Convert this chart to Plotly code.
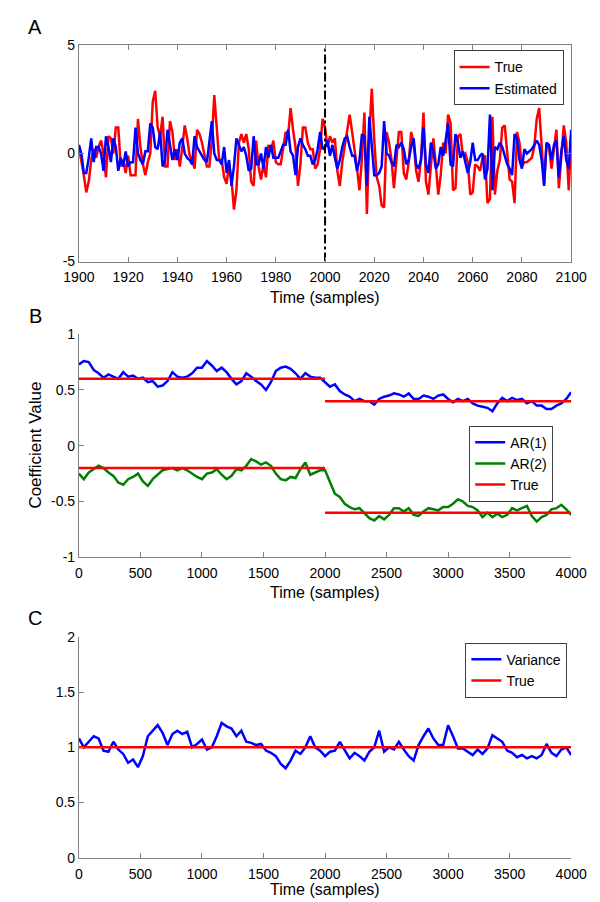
import plotly.graph_objects as go

# ---------------- Data ----------------
# Panel A: samples 1900..2100
a_time = list(range(1900, 2101))
a_true = [
    0.3, -0.3, -1.0, -1.8, -1.3, -0.3, 0.2, -0.2, 0.3, 0.6,
    0.0, -1.1, 0.8, 0.7, 0.0, 1.2, 1.2, -0.6, -0.3, -0.9,
    -0.1, -1.0, -1.0, -1.0, 1.6, 0.3, -0.5, -1.0, -0.4, 0.0,
    2.4, 2.9, 1.2, 0.8, 1.7, -0.6, -0.6, 1.5, 1.0, -0.3,
    0.2, -0.6, 0.3, 1.3, 0.7, -0.1, -0.3, -0.7, 1.1, 0.9,
    0.5, 0.0, -0.6, -0.6, 0.6, 2.7, 1.0, -0.3, -0.3, -1.1,
    -1.4, -0.5, -1.2, -2.6, -1.7, 0.5, 0.9, 0.5, 0.9, 0.2,
    -1.3, -1.5, 0.6, -0.6, -1.2, -0.5, -1.1, 0.4, 0.1, 0.6,
    -0.4, -0.5, -0.5, 0.2, 1.0, 0.8, 2.1, 1.1, 0.3, -1.5,
    -0.5, 1.2, 1.2, 0.5, 0.2, 0.2, -0.7, -0.5, 0.2, 1.6,
    1.2, 0.3, 0.8, 0.5, 0.7, -0.8, -1.5, -0.4, 0.4, 1.0,
    1.8, 1.0, 0.2, -0.7, -1.7, -0.2, 1.9, -2.8, 0.9, 3.0,
    0.6, -1.1, -1.5, -2.4, -2.5, 1.0, 0.5, -0.3, -1.6, -0.3,
    1.0, 1.0, -0.9, -1.2, -0.4, 1.0, 0.5, -0.8, -1.3, -0.2,
    1.9, -1.3, -1.9, -0.6, 0.7, -0.5, -1.9, -1.0, 0.5, 0.0,
    1.8, 1.4, -1.7, -1.6, 0.8, 0.9, -0.1, 0.0, -0.4, -1.9,
    -1.8, -0.5, -0.6, -0.8, -0.2, -0.1, -2.3, -2.1, 1.7, -1.9,
    -0.8, -0.3, 1.2, 1.3, 0.0, -1.2, -1.3, -2.3, 1.0, 0.5,
    -0.6, -0.4, -0.4, -0.3, -0.2, 0.3, 1.6, 2.1, 0.4, -1.4,
    0.5, 0.3, -0.7, 0.3, 1.1, -1.6, -0.3, 1.3, 0.5, -1.7,
    0.8,
]
a_est = [
    0.4, 0.0, -0.9, -0.9, -0.2, 0.7, -0.4, 0.3, 0.3, 0.0,
    -0.8, 0.8, 0.3, -0.4, 0.7, 0.3, -0.8, -0.2, -0.6, 0.1,
    -0.6, -0.4, -0.4, 1.2, 0.0, -0.3, -0.5, 0.1, 0.1, 1.4,
    1.2, 0.3, 0.2, 1.0, -0.6, -0.3, 1.1, 0.4, -0.3, 0.2,
    -0.3, 0.5, 0.7, 0.0, -0.2, -0.3, -0.5, 0.8, 0.3, 0.1,
    -0.1, -0.3, -0.4, 0.5, 1.5, 0.0, -0.3, -0.3, -0.5, 0.3,
    -0.9, -0.3, -1.5, -0.6, 0.7, 0.4, 0.1, 0.3, -0.1, -0.8,
    -0.7, 0.8, -0.5, -0.5, 0.0, -0.7, 0.3, -0.2, 0.4, -0.2,
    -0.2, -0.2, 0.1, 0.4, 0.4, 1.1, 0.1, -0.1, -1.0, 0.3,
    0.7, 0.4, 0.2, -0.1, -0.1, -0.5, -0.3, 0.2, 1.0, 0.2,
    0.3, 0.6, -0.1, 0.4, -0.2, -0.7, -0.3, 0.3, 0.7, 0.8,
    0.3, -0.1, -0.1, -0.8, -0.3, 0.9, 0.8, -1.5, 1.7, 0.5,
    -1.0, -1.0, -0.9, -0.6, 1.5, 0.0, -0.1, -0.4, -0.6, 0.4,
    0.3, 0.5, 0.2, -0.5, -0.3, 0.3, 0.7, -0.5, -0.7, -0.3,
    1.2, -0.5, -0.9, 0.5, 0.1, -0.7, -0.5, 0.3, -0.1, 0.6,
    1.4, -0.5, -0.6, 0.9, 0.5, -0.2, 0.1, -0.4, -0.9, -0.4,
    0.5, -0.3, -0.3, -0.1, 0.0, -1.2, -0.7, 1.8, -1.7, 0.3,
    0.2, 0.5, 0.3, -0.1, -0.5, -0.7, -1.0, 0.9, 0.7, -0.3,
    -0.7, 0.2, 0.0, 0.1, 0.2, 0.4, 0.6, 0.4, -0.3, -1.5,
    0.5, 0.4, -0.3, 0.4, 0.6, -1.1, 0.1, 0.8, -0.3, -0.7,
    1.1,
]
a_change = [2000, 2000]
a_change_y = [-5, 5]

# Panel B / C: samples 0..4000 (read every 40 samples)
bc_time = list(range(0, 4001, 40))
b_ar1 = [
    0.73, 0.76, 0.75, 0.68, 0.65, 0.61, 0.64, 0.62, 0.60, 0.66,
    0.62, 0.63, 0.60, 0.61, 0.57, 0.58, 0.53, 0.54, 0.58, 0.66,
    0.62, 0.61, 0.62, 0.65, 0.70, 0.70, 0.76, 0.72, 0.67, 0.70,
    0.66, 0.60, 0.55, 0.58, 0.65, 0.62, 0.58, 0.55, 0.50, 0.57,
    0.67, 0.70, 0.71, 0.69, 0.65, 0.60, 0.65, 0.62, 0.61, 0.61,
    0.57, 0.53, 0.55, 0.49, 0.46, 0.44, 0.40, 0.42, 0.40, 0.40,
    0.37, 0.42, 0.44, 0.45, 0.47, 0.46, 0.44, 0.47, 0.42, 0.42,
    0.45, 0.44, 0.42, 0.45, 0.46, 0.42, 0.39, 0.42, 0.40, 0.42,
    0.38, 0.36, 0.35, 0.34, 0.31, 0.38, 0.43, 0.40, 0.43, 0.41,
    0.42, 0.38, 0.40, 0.36, 0.36, 0.33, 0.33, 0.36, 0.38, 0.42,
    0.48,
]
b_ar2 = [
    -0.25, -0.30, -0.24, -0.21, -0.18, -0.20, -0.24, -0.27, -0.33, -0.35,
    -0.30, -0.28, -0.25, -0.32, -0.36, -0.30, -0.26, -0.22, -0.21, -0.20,
    -0.22, -0.20, -0.22, -0.25, -0.28, -0.30, -0.25, -0.24, -0.21, -0.26,
    -0.30, -0.27, -0.21, -0.22, -0.18, -0.12, -0.14, -0.17, -0.15, -0.18,
    -0.25, -0.30, -0.31, -0.28, -0.29, -0.21, -0.15, -0.26, -0.24, -0.22,
    -0.22, -0.32, -0.43, -0.46, -0.52, -0.55, -0.57, -0.56, -0.61, -0.65,
    -0.67, -0.63, -0.66, -0.62, -0.56, -0.56, -0.59, -0.56, -0.62, -0.63,
    -0.59, -0.56, -0.57, -0.58, -0.55, -0.55, -0.52, -0.48, -0.50, -0.54,
    -0.55, -0.58, -0.64, -0.60, -0.64, -0.61, -0.64, -0.62, -0.56, -0.58,
    -0.56, -0.54, -0.63, -0.68, -0.64, -0.62, -0.57, -0.56, -0.53, -0.57,
    -0.62,
]
b_true_x = [0, 2000, None, 2000, 4000, None, 0, 2000, None, 2000, 4000]
b_true_y = [0.6, 0.6, None, 0.4, 0.4, None, -0.2, -0.2, None, -0.6, -0.6]

c_var = [
    1.08, 1.00, 1.05, 1.10, 1.08, 0.97, 0.96, 1.05, 0.98, 0.94,
    0.86, 0.89, 0.82, 0.92, 1.10, 1.15, 1.20, 1.13, 1.02, 1.12,
    1.15, 1.12, 1.14, 1.00, 1.03, 1.07, 0.98, 1.00, 1.10, 1.22,
    1.19, 1.17, 1.10, 1.15, 1.05, 1.04, 1.02, 1.03, 0.97, 0.95,
    0.92, 0.85, 0.81, 0.88, 0.97, 0.94, 1.00, 1.10, 1.00, 0.97,
    0.92, 0.96, 0.97, 1.05, 0.98, 0.90, 0.95, 0.92, 0.88, 0.96,
    1.00, 1.15, 0.96, 1.00, 0.98, 1.05, 0.98, 0.92, 0.88, 1.02,
    1.10, 1.17, 1.08, 1.02, 1.02, 1.20, 1.10, 0.99, 0.99, 0.96,
    0.93, 0.98, 0.94, 0.99, 1.11, 1.08, 1.05, 0.97, 0.95, 0.91,
    0.93, 0.90, 0.92, 0.90, 0.93, 1.03, 0.95, 0.92, 0.98, 1.00,
    0.93,
]
c_true_x = [0, 4000]
c_true_y = [1, 1]

# Tick labels
a_xticks = [1900, 1920, 1940, 1960, 1980, 2000, 2020, 2040, 2060, 2080, 2100]
a_yticks = [-5, 0, 5]
a_yticklabels = ["-5", "0", "5"]
bc_xticks = [0, 500, 1000, 1500, 2000, 2500, 3000, 3500, 4000]
b_yticks = [-1, -0.5, 0, 0.5, 1]
b_yticklabels = ["-1", "-0.5", "0", "0.5", "1"]
c_yticks = [0, 0.5, 1, 1.5, 2]
c_yticklabels = ["0", "0.5", "1", "1.5", "2"]

# ---------------- Figure ----------------
W, H = 600, 902
FONT = "Arial, 'Liberation Sans', sans-serif"
RED, BLUE, GREEN = "#ff0000", "#0000ff", "#008000"
AXC = "#808080"
LW = 2.5

def py(px):
    return 1 - px / H

x0, x1 = 58 / W, 578 / W

fig = go.Figure()

# Panel A
fig.add_trace(go.Scatter(x=a_time, y=a_true, mode="lines", name="True",
                         line=dict(color=RED, width=LW), xaxis="x", yaxis="y", legend="legend"))
fig.add_trace(go.Scatter(x=a_time, y=a_est, mode="lines", name="Estimated",
                         line=dict(color=BLUE, width=LW), xaxis="x", yaxis="y", legend="legend"))
fig.add_trace(go.Scatter(x=a_change, y=a_change_y, mode="lines", showlegend=False,
                         line=dict(color="black", width=2, dash="dashdot"), xaxis="x", yaxis="y"))

# Panel B
fig.add_trace(go.Scatter(x=bc_time, y=b_ar1, mode="lines", name="AR(1)",
                         line=dict(color=BLUE, width=LW), xaxis="x2", yaxis="y2", legend="legend2"))
fig.add_trace(go.Scatter(x=bc_time, y=b_ar2, mode="lines", name="AR(2)",
                         line=dict(color=GREEN, width=LW), xaxis="x2", yaxis="y2", legend="legend2"))
fig.add_trace(go.Scatter(x=b_true_x, y=b_true_y, mode="lines", name="True",
                         line=dict(color=RED, width=LW), xaxis="x2", yaxis="y2", legend="legend2"))

# Panel C
fig.add_trace(go.Scatter(x=bc_time, y=c_var, mode="lines", name="Variance",
                         line=dict(color=BLUE, width=LW), xaxis="x3", yaxis="y3", legend="legend3"))
fig.add_trace(go.Scatter(x=c_true_x, y=c_true_y, mode="lines", name="True",
                         line=dict(color=RED, width=LW), xaxis="x3", yaxis="y3", legend="legend3"))

tickfont = dict(family=FONT, size=14, color="black")
common = dict(showgrid=False, zeroline=False, showline=True, linecolor=AXC, linewidth=1,
              ticks="inside", ticklen=5, tickcolor=AXC, tickfont=tickfont)
xcommon = dict(ticklabelstandoff=3, **common)

dom_a = [py(250), py(30)]
dom_b = [py(551), py(324)]
dom_c = [py(857), py(632)]

legfont = dict(family=FONT, size=14, color="black")
legcommon = dict(xanchor="right", yanchor="top", bgcolor="white", bordercolor="#404040",
                 borderwidth=1, font=legfont, tracegroupgap=0, itemwidth=30)

fig.update_layout(
    width=W, height=H, margin=dict(l=0, r=0, t=0, b=0),
    paper_bgcolor="white", plot_bgcolor="white",
    font=dict(family=FONT, color="black"),
    xaxis=dict(domain=[x0, x1], anchor="y", range=[1900, 2100], tickvals=a_xticks,
               mirror="ticks", **xcommon),
    yaxis=dict(domain=dom_a, anchor="x", range=[-5, 5], tickvals=a_yticks, ticktext=a_yticklabels,
               mirror="ticks", **common),
    xaxis2=dict(domain=[x0, x1], anchor="y2", range=[0, 4000], tickvals=bc_xticks, **xcommon),
    yaxis2=dict(domain=dom_b, anchor="x2", range=[-1, 1], tickvals=b_yticks, ticktext=b_yticklabels,
                **common),
    xaxis3=dict(domain=[x0, x1], anchor="y3", range=[0, 4000], tickvals=bc_xticks, **xcommon),
    yaxis3=dict(domain=dom_c, anchor="x3", range=[0, 2], tickvals=c_yticks, ticktext=c_yticklabels,
                **common),
    legend=dict(x=570 / W, y=py(35), **legcommon),
    legend2=dict(x=559 / W, y=py(417), **legcommon),
    legend3=dict(x=574 / W, y=py(638), **legcommon),
)

ann = []
title_font = dict(family=FONT, size=16, color="black")
xc = (x0 + x1) / 2
for yp in (296, 597, 899):
    ann.append(dict(text="Time (samples)", x=xc, y=py(yp), xref="paper", yref="paper",
                    showarrow=False, xanchor="center", yanchor="bottom", font=title_font,
                    borderpad=0))
ann.append(dict(text="Coefficient Value", x=12 / W, y=py(437), xref="paper", yref="paper",
                showarrow=False, xanchor="center", yanchor="middle", textangle=-90,
                font=dict(family=FONT, size=17, color="black")))
for letter, (lx, ly) in {"A": (12, 11), "B": (12, 305), "C": (12, 613)}.items():
    ann.append(dict(text=letter, x=lx / W, y=py(ly), xref="paper", yref="paper", showarrow=False,
                    xanchor="center", yanchor="middle", font=dict(family=FONT, size=20, color="black")))
fig.update_layout(annotations=ann)

fig.write_html("out.html")
